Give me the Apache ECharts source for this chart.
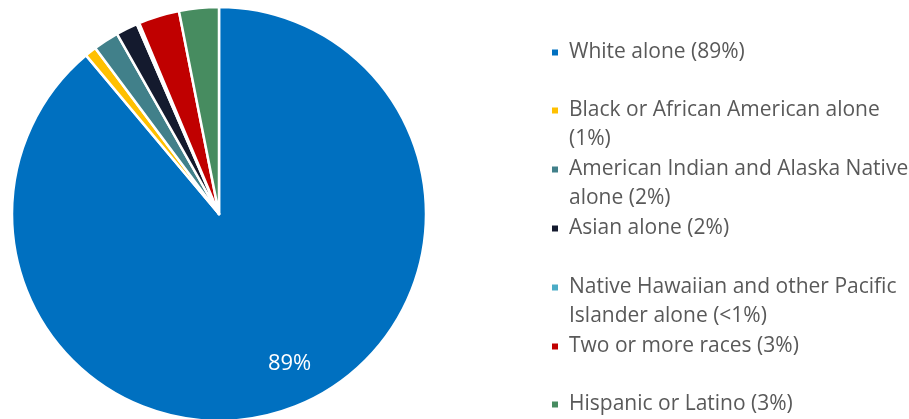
<!DOCTYPE html>
<html>
<head>
<meta charset="utf-8">
<script src="https://cdn.jsdelivr.net/npm/echarts@6/dist/echarts.min.js"></script>
<style>
html,body{margin:0;padding:0;background:#fff;}
#chart{width:909px;height:419px;}
</style>
</head>
<body>
<div id="chart"></div>
<script>
const categories = [
  'White alone',
  'Black or African American alone',
  'American Indian and Alaska Native alone',
  'Asian alone',
  'Native Hawaiian and other Pacific Islander alone',
  'Two or more races',
  'Hispanic or Latino'
];
const values = [88.9, 0.9, 2.0, 1.7, 0.2, 3.2, 3.1];
const legendLabels = [
  'White alone (89%)',
  'Black or African American alone\n(1%)',
  'American Indian and Alaska Native\nalone (2%)',
  'Asian alone (2%)',
  'Native Hawaiian and other Pacific\nIslander alone (<1%)',
  'Two or more races (3%)',
  'Hispanic or Latino (3%)'
];
const sliceLabels = ['89%', '', '', '', '', '', ''];
const colors = ['#0070C0', '#FFC000', '#41808A', '#141A2E', '#4BACC6', '#C00000', '#478C60'];

const chart = echarts.init(document.getElementById('chart'));
const LH = 29;
const firstCenter = 52, step = 58.8;
const FONT = '"Open Sans", sans-serif';

const legends = categories.map((c, i) => {
  const twoLine = legendLabels[i].indexOf('\n') >= 0;
  const text = twoLine ? ' \n' + legendLabels[i] : legendLabels[i];
  return {
    data: [c],
    left: 550,
    top: Math.round(firstCenter + i * step - (twoLine ? 1.5 : 0.5) * LH),
    padding: 0,
    icon: 'rect',
    itemWidth: 8,
    itemHeight: 8,
    selectedMode: false,
    formatter: () => text,
    textStyle: {
      fontFamily: FONT,
      fontSize: 21,
      color: '#595959',
      lineHeight: LH,
      padding: [0, 0, 0, 5]
    }
  };
});

const data = categories.map((c, i) => ({
  name: c,
  value: values[i],
  itemStyle: { color: colors[i] }
}));

chart.setOption({
  animation: false,
  legend: legends,
  series: [
    {
      type: 'pie',
      center: [219, 214],
      radius: [0, 207],
      startAngle: 90,
      clockwise: true,
      avoidLabelOverlap: false,
      data: data,
      itemStyle: { borderColor: '#ffffff', borderWidth: 2.5 },
      label: { show: false },
      labelLine: { show: false },
      emphasis: { disabled: true }
    },
    {
      type: 'pie',
      center: [219, 214],
      radius: [124, 207],
      startAngle: 90,
      clockwise: true,
      silent: true,
      avoidLabelOverlap: false,
      data: categories.map((c, i) => ({ name: c, value: values[i] })),
      itemStyle: { color: 'transparent', borderWidth: 0 },
      label: {
        show: true,
        position: 'inside',
        formatter: p => sliceLabels[p.dataIndex],
        color: '#ffffff',
        fontFamily: FONT,
        fontSize: 22
      },
      labelLayout: { dx: 13, dy: -9 },
      labelLine: { show: false },
      emphasis: { disabled: true }
    }
  ]
});
</script>
</body>
</html>
